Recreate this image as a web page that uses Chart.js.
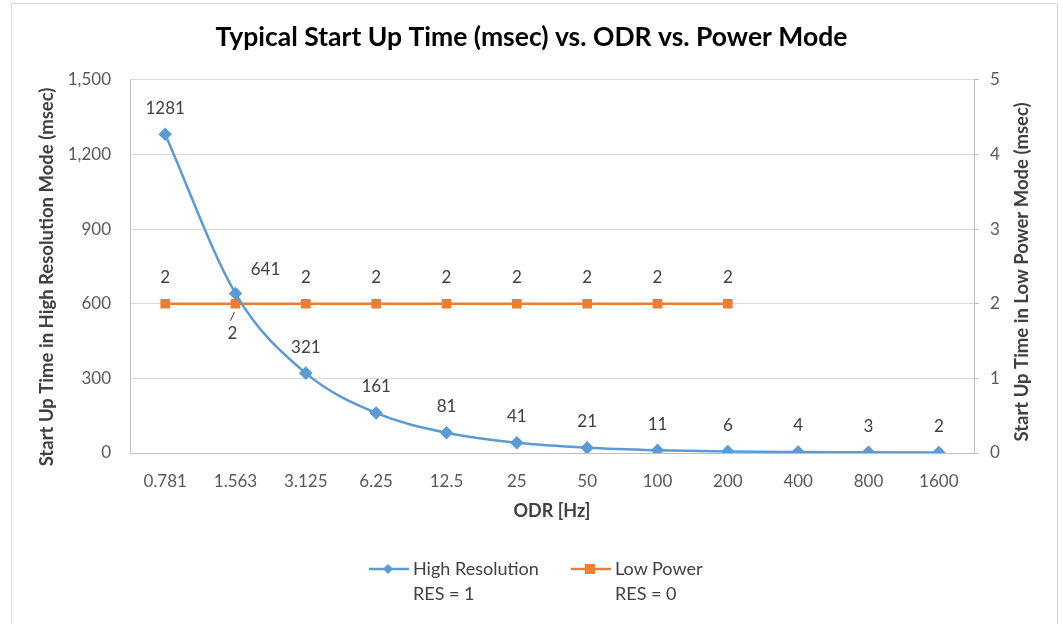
<!DOCTYPE html>
<html>
<head>
<meta charset="utf-8">
<script src="https://cdn.jsdelivr.net/npm/chart.js@4.4.1/dist/chart.umd.min.js"></script>
<style>
  html, body { margin: 0; padding: 0; background: #fff; }
  #wrap { position: relative; width: 1063px; height: 624px; }
  #legend { position: absolute; top: 556px; left: 0; width: 1063px; font-family: Lato, "Open Sans", sans-serif; font-size: 18px; color: #404040; }
  .item { position: absolute; line-height: 25px; }
  .item svg { position: absolute; left: -46px; top: 3px; }
</style>
</head>
<body>
<div id="wrap">
  <canvas id="chart" width="1063" height="624"></canvas>
  <div id="legend">
    <div class="item" style="left:413px;">
      <svg width="44" height="20"><line x1="2" y1="10" x2="42" y2="10" stroke="#5b9bd5" stroke-width="2.5"/><polygon points="21,5 26,10 21,15 16,10" fill="#5b9bd5"/></svg>
      High Resolution<br>RES = 1
    </div>
    <div class="item" style="left:615px;">
      <svg width="44" height="20"><line x1="2" y1="10" x2="42" y2="10" stroke="#ed7d31" stroke-width="2.5"/><rect x="16" y="5" width="10" height="10" fill="#ed7d31"/></svg>
      Low Power<br>RES = 0
    </div>
  </div>
</div>
<script>
var odrLabels = ['0.781', '1.563', '3.125', '6.25', '12.5', '25', '50', '100', '200', '400', '800', '1600'];
var highResValues = [1281, 641, 321, 161, 81, 41, 21, 11, 6, 4, 3, 2];
var lowPowerValues = [2, 2, 2, 2, 2, 2, 2, 2, 2, null, null, null];

var FONT = 'Lato, "Open Sans", sans-serif';
var leftTitle = 'Start Up Time in High Resolution Mode (msec)';
var rightTitle = 'Start Up Time in Low Power Mode (msec)';

function drawVTitle(c, text, x, y) {
  c.save();
  c.translate(x, y);
  c.rotate(-Math.PI / 2);
  c.font = 'bold 18.5px ' + FONT;
  c.fillStyle = '#404040';
  c.textAlign = 'center';
  c.textBaseline = 'middle';
  c.fillText(text, 0, 0);
  c.restore();
}

// frame around whole chart + both axis titles (both read bottom to top like excel)
var framePlugin = {
  id: 'frame',
  beforeDraw: function (chart) {
    var c = chart.ctx;
    c.save();
    c.strokeStyle = '#d9d9d9';
    c.lineWidth = 1;
    c.strokeRect(11.5, 3.5, 1046, 660);
    c.restore();
  },
  afterDraw: function (chart) {
    drawVTitle(chart.ctx, leftTitle, 47, 277);
    drawVTitle(chart.ctx, rightTitle, 1022, 272);
  }
};

// value labels like excel data labels
var labelPlugin = {
  id: 'valueLabels',
  afterDatasetsDraw: function (chart) {
    var c = chart.ctx;
    c.save();
    c.font = '17px ' + FONT;
    c.fillStyle = '#404040';
    c.textAlign = 'center';
    c.textBaseline = 'middle';
    chart.data.datasets.forEach(function (ds, di) {
      var meta = chart.getDatasetMeta(di);
      meta.data.forEach(function (pt, i) {
        var v = ds.data[i];
        if (v === null) return;
        var dx = 0, dy = -26;
        if (di === 0 && i === 1) { dx = 30; dy = -24; }
        if (di === 1 && i === 1) {
          dx = -3; dy = 30;
          c.strokeStyle = '#404040';
          c.lineWidth = 1;
          c.beginPath();
          c.moveTo(pt.x - 1, pt.y + 8);
          c.lineTo(pt.x - 5, pt.y + 17);
          c.stroke();
        }
        c.fillText(String(v), pt.x + dx, pt.y + dy);
      });
    });
    c.restore();
  }
};

new Chart(document.getElementById('chart'), {
  type: 'line',
  data: {
    labels: odrLabels,
    datasets: [{
      label: 'High Resolution RES = 1',
      data: highResValues,
      yAxisID: 'y',
      borderColor: '#5b9bd5',
      backgroundColor: '#5b9bd5',
      borderWidth: 2.5,
      pointStyle: 'rectRot',
      pointRadius: 5,
      pointHoverRadius: 5,
      cubicInterpolationMode: 'monotone'
    }, {
      label: 'Low Power RES = 0',
      data: lowPowerValues,
      yAxisID: 'y1',
      borderColor: '#ed7d31',
      backgroundColor: '#ed7d31',
      borderWidth: 2.5,
      pointStyle: 'rect',
      pointRadius: 5,
      pointHoverRadius: 5
    }]
  },
  options: {
    responsive: false,
    animation: false,
    layout: { padding: { left: 0, right: 0, top: 0, bottom: 102 } },
    plugins: {
      legend: { display: false },
      tooltip: { enabled: false },
      title: {
        display: true,
        text: 'Typical Start Up Time (msec) vs. ODR vs. Power Mode',
        color: '#000',
        font: { family: FONT, size: 26.5, weight: 'bold' },
        padding: { top: 22, bottom: 26 }
      }
    },
    scales: {
      x: {
        offset: true,
        grid: { display: false, drawTicks: false, offset: true },
        border: { color: '#bfbfbf' },
        ticks: { color: '#595959', font: { family: FONT, size: 17 }, padding: 18, maxRotation: 0 },
        title: { display: true, text: 'ODR [Hz]', color: '#404040', font: { family: FONT, size: 18, weight: 'bold' }, padding: { top: 0, bottom: 0 } },
        afterFit: function (s) { s.height = 69; }
      },
      y: {
        position: 'left',
        min: 0, max: 1500,
        grid: { color: '#d9d9d9', drawTicks: false },
        border: { color: '#bfbfbf' },
        ticks: { stepSize: 300, color: '#595959', font: { family: FONT, size: 17 }, padding: 19,
          callback: function (v) { return v.toLocaleString('en-US'); } },
        afterFit: function (s) { s.width = 130; }
      },
      y1: {
        position: 'right',
        min: 0, max: 5,
        grid: { drawOnChartArea: false, color: '#bfbfbf', tickLength: 5 },
        border: { color: '#bfbfbf' },
        ticks: { stepSize: 1, color: '#595959', font: { family: FONT, size: 17 }, padding: 11 },
        afterFit: function (s) { s.width = 89; }
      }
    }
  },
  plugins: [framePlugin, labelPlugin]
});
</script>
</body>
</html>
